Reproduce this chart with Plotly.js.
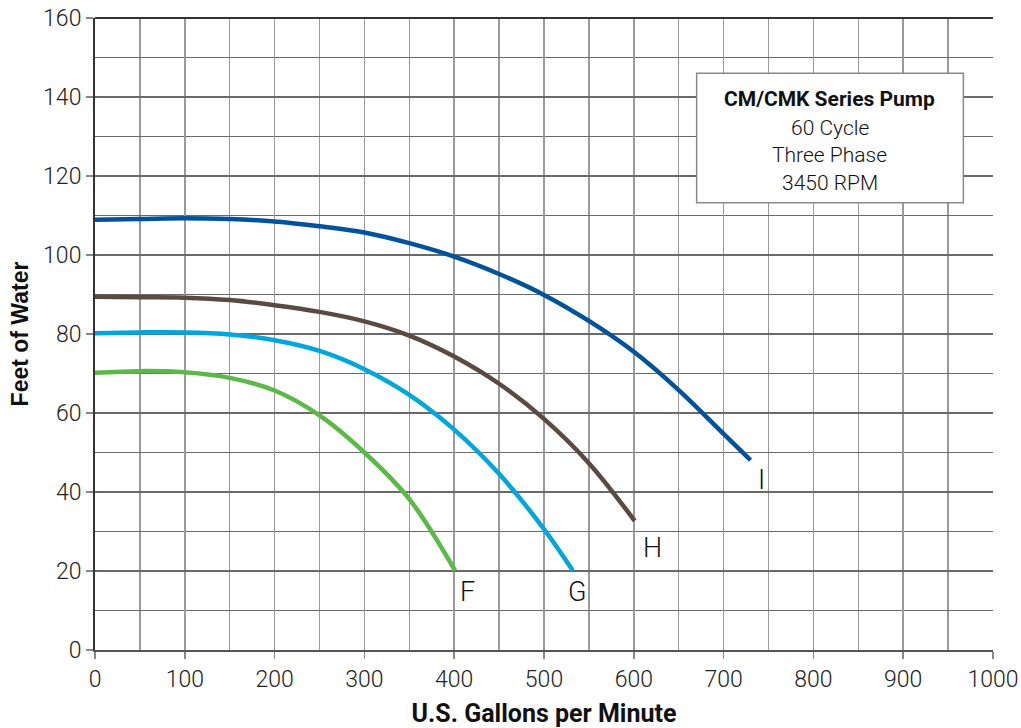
<!DOCTYPE html>
<html>
<head>
<meta charset="utf-8">
<script src="https://cdn.plot.ly/plotly-3.0.1.min.js"></script>
<style>html,body{margin:0;padding:0;background:#fff;}#chart{width:1021px;height:728px;}</style>
</head>
<body>
<div id="chart"></div>
<script>
// Flow (U.S. gallons per minute) and head (feet of water)
const flowI = [0, 50, 100, 150, 200, 250, 300, 350, 400, 450, 500, 550, 600, 650, 700, 730];
const headI = [108.9, 109.1, 109.3, 109.1, 108.5, 107.3, 105.7, 103.0, 99.6, 95.2, 89.9, 83.3, 75.5, 65.8, 54.7, 48.1];

const flowH = [0, 50, 100, 150, 200, 250, 300, 350, 400, 450, 500, 550, 601];
const headH = [89.4, 89.3, 89.2, 88.6, 87.3, 85.6, 83.2, 79.6, 74.3, 67.4, 58.5, 47.3, 32.7];

const flowG = [0, 50, 100, 150, 200, 250, 300, 350, 400, 450, 500, 532];
const headG = [80.2, 80.4, 80.4, 79.9, 78.4, 75.7, 71.1, 64.6, 55.8, 44.6, 30.6, 20.1];

const flowF = [0, 50, 100, 150, 200, 250, 300, 350, 401];
const headF = [70.2, 70.6, 70.3, 68.9, 65.7, 59.4, 50.0, 38.2, 20.1];

const curveNames = ["I", "H", "G", "F"];
const curveColors = ["#00529b", "#5a4a42", "#00a6dc", "#5cb947"];
const flows = [flowI, flowH, flowG, flowF];
const heads = [headI, headH, headG, headF];
const labelShift = [[11, -20], [18, -27], [4, -21], [12, -21]];

const infoTitle = "CM/CMK Series Pump";
const infoLines = ["60 Cycle", "Three Phase", "3450 RPM"];

const traces = curveNames.map((n, i) => ({
  x: flows[i], y: heads[i], name: n, type: "scatter", mode: "lines",
  line: {color: curveColors[i], width: 4.5, shape: "spline", smoothing: 1.0},
  hoverinfo: "x+y"
}));

const tickFont = {family: "Roboto, 'DejaVu Sans', sans-serif", size: 23, color: "#222", weight: 300};

const annotations = curveNames.map((n, i) => ({
  x: flows[i][flows[i].length - 1], y: heads[i][heads[i].length - 1],
  xref: "x", yref: "y", text: n, showarrow: false,
  xshift: labelShift[i][0], yshift: labelShift[i][1],
  font: {family: "Roboto, sans-serif", size: 27, color: "#111", weight: 300}
}));

annotations.push({
  x: 818, y: 139.4, xref: "x", yref: "y", text: "<b>" + infoTitle + "</b>", showarrow: false,
  font: {family: "Roboto, sans-serif", size: 21, color: "#111"}
});
const lineYs = [132.2, 125.3, 118.3];
infoLines.forEach((t, k) => annotations.push({
  x: 818, y: lineYs[k], xref: "x", yref: "y", text: t, showarrow: false,
  font: {family: "Roboto, sans-serif", size: 21, color: "#111", weight: 300}
}));

const layout = {
  width: 1021, height: 728,
  margin: {l: 95, r: 28, t: 18, b: 78},
  paper_bgcolor: "#fff", plot_bgcolor: "#fff",
  showlegend: false,
  xaxis: {
    range: [0, 1000], dtick: 100, tick0: 0, fixedrange: true,
    showgrid: true, gridcolor: "#9a9a9a", gridwidth: 1.5,
    minor: {dtick: 50, showgrid: true, gridcolor: "#9a9a9a", gridwidth: 1.5},
    ticks: "outside", ticklen: 7, tickcolor: "#888", tickwidth: 1.5,
    showline: true, linecolor: "#555", linewidth: 2, mirror: false,
    zeroline: false, tickfont: tickFont,
    title: {text: "<b>U.S. Gallons per Minute</b>", font: {family: "Roboto, sans-serif", size: 25, color: "#111"}, standoff: 13}
  },
  yaxis: {
    range: [0, 160], dtick: 20, tick0: 0, fixedrange: true,
    showgrid: true, gridcolor: "#6a6a6a", gridwidth: 1.3,
    minor: {dtick: 10, showgrid: true, gridcolor: "#6a6a6a", gridwidth: 1.3},
    ticks: "outside", ticklen: 7, tickcolor: "#888", tickwidth: 1.5,
    showline: true, linecolor: "#333", linewidth: 2, mirror: false,
    zeroline: false, tickfont: tickFont,
    title: {text: "<b>Feet of Water</b>", font: {family: "'Liberation Sans', Arial, sans-serif", size: 23, color: "#111"}, standoff: 8}
  },
  shapes: [
    {type: "line", xref: "paper", yref: "paper", x0: 0, x1: 1, y0: 1, y1: 1, line: {color: "#333", width: 2}},
    {type: "rect", xref: "x", yref: "y", x0: 670, x1: 967, y0: 113.2, y1: 146, fillcolor: "#fff", line: {color: "#8a8a8a", width: 1.5}, layer: "above"}
  ],
  annotations: annotations
};

Plotly.newPlot("chart", traces, layout, {displayModeBar: false, staticPlot: true});
</script>
</body>
</html>
